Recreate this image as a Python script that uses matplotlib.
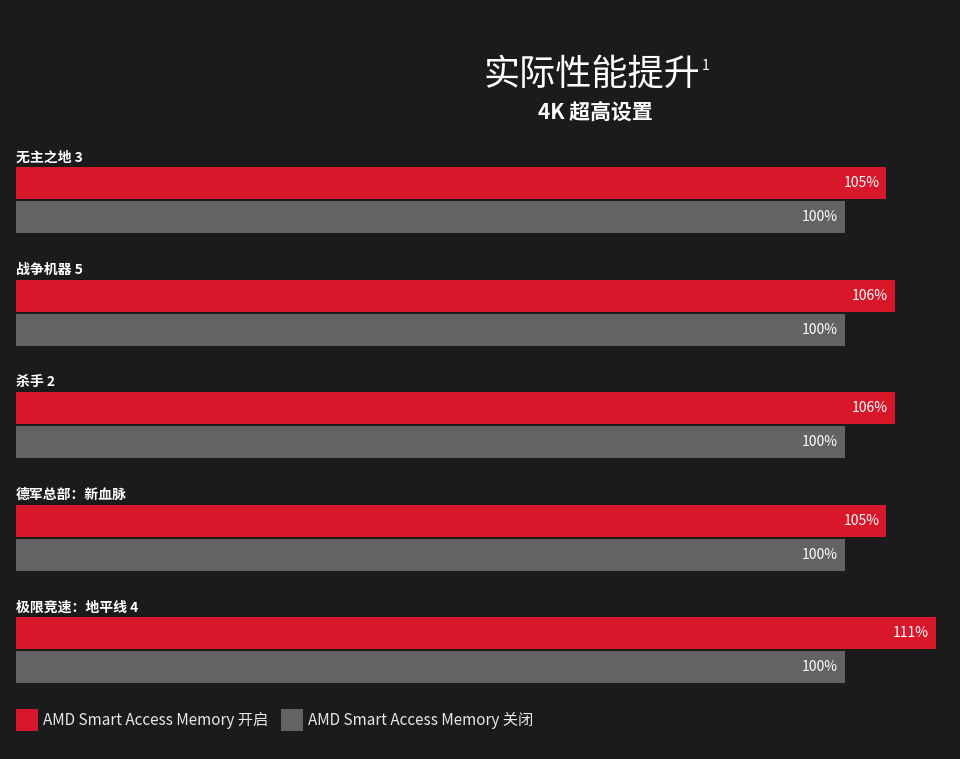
import matplotlib
matplotlib.use("Agg")
import matplotlib.pyplot as plt
import numpy as np

plt.rcParams['font.family'] = ['Noto Sans CJK SC', 'DejaVu Sans']

games = ["无主之地 3", "战争机器 5", "杀手 2", "德军总部：新血脉", "极限竞速：地平线 4"]
sam_on = [105, 106, 106, 105, 111]
sam_off = [100, 100, 100, 100, 100]
series_names = ["AMD Smart Access Memory 开启", "AMD Smart Access Memory 关闭"]
title = "实际性能提升"
subtitle = "4K 超高设置"

BG = "#1b1b1b"
RED = "#d9172a"
GRAY = "#636365"

W, H = 960, 759
fig = plt.figure(figsize=(9.6, 7.59), dpi=100, facecolor=BG)

# axes: x pixel 16 -> 960, y pixel 140 -> 700
px_per_unit = (845 - 16) / 100.0
ax = fig.add_axes([16 / W, 1 - 700 / H, (W - 16) / W, 560 / H])
ax.set_facecolor(BG)
ax.set_xlim(0, (W - 16) / px_per_unit)
grp = 112.5
ax.set_ylim((700 - 200.25) / grp, (140 - 200.25) / grp)
ax.axis('off')

y = np.arange(len(games))
off = 17.0 / grp
h = 32.0 / grp
b1 = ax.barh(y - off, sam_on, height=h, color=RED, label=series_names[0])
b2 = ax.barh(y + off, sam_off, height=h, color=GRAY, label=series_names[1])

for i, g in enumerate(games):
    ax.text(0, i - 43.0 / grp, g, color="white", fontsize=10, fontweight='bold',
            ha='left', va='center')
    ax.annotate(f"{sam_on[i]}%", xy=(sam_on[i], i - off), xytext=(-7, 0),
                textcoords='offset pixels', color="white", fontsize=10,
                ha='right', va='center')
    ax.annotate(f"{sam_off[i]}%", xy=(sam_off[i], i + off), xytext=(-7, 0),
                textcoords='offset pixels', color="white", fontsize=10,
                ha='right', va='center')

fig.text(592 / W, 1 - 75 / H, title, color="white", fontsize=26, ha='center', va='center')
fig.text(702 / W, 1 - 66 / H, "1", color="white", fontsize=10, ha='left', va='center')
fig.text(595 / W, 1 - 112 / H, subtitle, color="white", fontsize=15, fontweight='bold',
         ha='center', va='center')

leg = fig.legend(handles=[b1, b2], loc='center left',
                 bbox_to_anchor=(16 / W, 1 - 720 / H), ncol=2, frameon=False,
                 fontsize=11, handlelength=1.45, handleheight=1.75, handletextpad=0.3,
                 columnspacing=0.85, borderpad=0, borderaxespad=0)
for t in leg.get_texts():
    t.set_color("#e8e8e8")

fig.savefig("out.png", dpi=100, facecolor=BG)
